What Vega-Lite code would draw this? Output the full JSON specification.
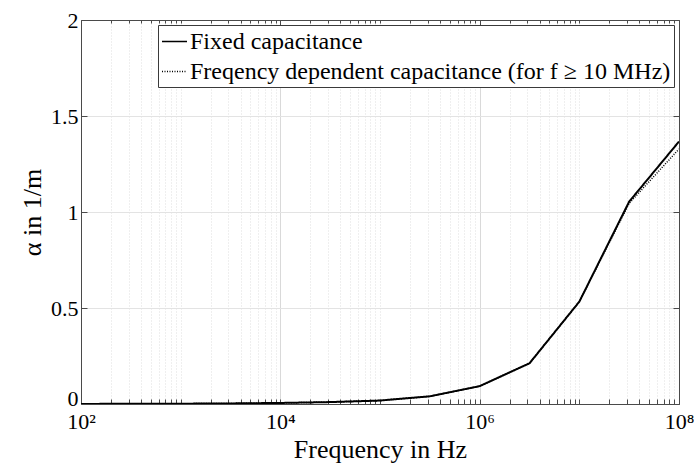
{
  "$schema": "https://vega.github.io/schema/vega-lite/v6.json",
  "width": 598,
  "height": 384,
  "autosize": "none",
  "padding": {"left": 81, "top": 20, "right": 15, "bottom": 64},
  "background": "white",
  "config": {
    "view": {"stroke": null},
    "font": "Liberation Serif",
    "axis": {
      "domainColor": "#4a4a4a",
      "domainWidth": 1,
      "tickColor": "#4a4a4a",
      "tickWidth": 1,
      "labelColor": "black",
      "titleColor": "black",
      "labelFont": "Liberation Serif",
      "titleFont": "Liberation Serif",
      "labelFontSize": 22,
      "titleFontSize": 26,
      "titleFontWeight": "normal"
    },
    "legend": {
      "orient": "top-right",
      "offset": 5,
      "fillColor": "white",
      "strokeColor": "#3a3a3a",
      "padding": 3,
      "labelFont": "Liberation Serif",
      "labelFontSize": 24,
      "labelColor": "black",
      "labelLimit": 0,
      "labelOffset": 2,
      "symbolType": "stroke",
      "symbolSize": 625,
      "symbolStrokeWidth": 1.6,
      "symbolStrokeColor": "black",
      "rowPadding": 4
    }
  },
  "data": {
    "values": [
      {"f": 100, "alpha": 0.0005, "series": "Fixed capacitance"},
      {"f": 316.23, "alpha": 0.0009, "series": "Fixed capacitance"},
      {"f": 1000, "alpha": 0.0016, "series": "Fixed capacitance"},
      {"f": 3162.3, "alpha": 0.003, "series": "Fixed capacitance"},
      {"f": 10000, "alpha": 0.0055, "series": "Fixed capacitance"},
      {"f": 31623, "alpha": 0.01, "series": "Fixed capacitance"},
      {"f": 100000, "alpha": 0.018, "series": "Fixed capacitance"},
      {"f": 316228, "alpha": 0.04, "series": "Fixed capacitance"},
      {"f": 1000000, "alpha": 0.093, "series": "Fixed capacitance"},
      {"f": 3162278, "alpha": 0.212, "series": "Fixed capacitance"},
      {"f": 10000000, "alpha": 0.533, "series": "Fixed capacitance"},
      {"f": 31622777, "alpha": 1.054, "series": "Fixed capacitance"},
      {"f": 100000000, "alpha": 1.367, "series": "Fixed capacitance"},
      {"f": 100, "alpha": 0.0005, "series": "Freqency dependent capacitance (for f ≥ 10 MHz)"},
      {"f": 316.23, "alpha": 0.0009, "series": "Freqency dependent capacitance (for f ≥ 10 MHz)"},
      {"f": 1000, "alpha": 0.0016, "series": "Freqency dependent capacitance (for f ≥ 10 MHz)"},
      {"f": 3162.3, "alpha": 0.003, "series": "Freqency dependent capacitance (for f ≥ 10 MHz)"},
      {"f": 10000, "alpha": 0.0055, "series": "Freqency dependent capacitance (for f ≥ 10 MHz)"},
      {"f": 31623, "alpha": 0.01, "series": "Freqency dependent capacitance (for f ≥ 10 MHz)"},
      {"f": 100000, "alpha": 0.018, "series": "Freqency dependent capacitance (for f ≥ 10 MHz)"},
      {"f": 316228, "alpha": 0.04, "series": "Freqency dependent capacitance (for f ≥ 10 MHz)"},
      {"f": 1000000, "alpha": 0.093, "series": "Freqency dependent capacitance (for f ≥ 10 MHz)"},
      {"f": 3162278, "alpha": 0.212, "series": "Freqency dependent capacitance (for f ≥ 10 MHz)"},
      {"f": 10000000, "alpha": 0.533, "series": "Freqency dependent capacitance (for f ≥ 10 MHz)"},
      {"f": 31622777, "alpha": 1.045, "series": "Freqency dependent capacitance (for f ≥ 10 MHz)"},
      {"f": 100000000, "alpha": 1.328, "series": "Freqency dependent capacitance (for f ≥ 10 MHz)"}
    ]
  },
  "layer": [
    {
      "transform": [{"filter": "datum.series == 'Fixed capacitance'"}],
      "mark": {"type": "line", "color": "black", "strokeWidth": 2, "clip": true},
      "encoding": {
        "x": {
          "field": "f",
          "type": "quantitative",
          "scale": {"type": "log", "domain": [100, 100000000], "nice": false},
          "axis": {
            "orient": "bottom",
            "title": "Frequency in Hz",
            "titleFont": "Liberation Serif",
            "titlePadding": 4,
            "values": [100, 200, 300, 400, 500, 600, 700, 800, 900, 1000, 2000, 3000, 4000, 5000, 6000, 7000, 8000, 9000, 10000, 20000, 30000, 40000, 50000, 60000, 70000, 80000, 90000, 100000, 200000, 300000, 400000, 500000, 600000, 700000, 800000, 900000, 1000000, 2000000, 3000000, 4000000, 5000000, 6000000, 7000000, 8000000, 9000000, 10000000, 20000000, 30000000, 40000000, 50000000, 60000000, 70000000, 80000000, 90000000, 100000000],
            "labelExpr": "datum.value == 100 ? '10²' : datum.value == 10000 ? '10⁴' : datum.value == 1000000 ? '10⁶' : datum.value == 100000000 ? '10⁸' : ''",
            "labelFont": "Liberation Serif",
            "labelPadding": 12,
            "labelFlush": false,
            "labelOverlap": false,
            "grid": true,
            "gridColor": {"condition": {"test": "datum.value == 100 || datum.value == 10000 || datum.value == 1000000 || datum.value == 100000000", "value": "#d9d9d9"}, "value": "#dedede"},
            "gridDash": {"condition": {"test": "datum.value == 100 || datum.value == 10000 || datum.value == 1000000 || datum.value == 100000000", "value": []}, "value": [1, 2]},
            "tickSize": -5
          }
        },
        "y": {
          "field": "alpha",
          "type": "quantitative",
          "scale": {"domain": [0, 2], "nice": false},
          "axis": {
            "orient": "left",
            "title": "α in 1/m",
            "titleFont": "Liberation Serif",
            "titlePadding": 5,
            "values": [0, 0.5, 1, 1.5, 2],
            "format": "~g",
            "labelFont": "Liberation Serif",
            "labelPadding": 9,
            "labelOffset": {"condition": {"test": "datum.value == 0", "value": -6}, "value": 0},
            "tickSize": -6,
            "grid": true,
            "gridColor": "#e3e3e3"
          }
        },
        "strokeDash": {
          "field": "series",
          "type": "nominal",
          "scale": {
            "domain": ["Fixed capacitance", "Freqency dependent capacitance (for f ≥ 10 MHz)"],
            "range": [[1, 0], [1, 1.5]]
          },
          "legend": {"title": null, "labelFont": "Liberation Serif"}
        }
      }
    },
    {
      "transform": [{"filter": "datum.series != 'Fixed capacitance'"}],
      "mark": {"type": "line", "color": "black", "strokeWidth": 1.5, "clip": true},
      "encoding": {
        "x": {
          "field": "f",
          "type": "quantitative",
          "axis": {
            "orient": "top",
            "title": null,
            "labels": false,
            "grid": false,
            "values": [100, 200, 300, 400, 500, 600, 700, 800, 900, 1000, 2000, 3000, 4000, 5000, 6000, 7000, 8000, 9000, 10000, 20000, 30000, 40000, 50000, 60000, 70000, 80000, 90000, 100000, 200000, 300000, 400000, 500000, 600000, 700000, 800000, 900000, 1000000, 2000000, 3000000, 4000000, 5000000, 6000000, 7000000, 8000000, 9000000, 10000000, 20000000, 30000000, 40000000, 50000000, 60000000, 70000000, 80000000, 90000000, 100000000],
            "tickSize": {"condition": {"test": "datum.value == 100 || datum.value == 10000 || datum.value == 1000000 || datum.value == 100000000", "value": -6}, "value": -3}
          }
        },
        "y": {
          "field": "alpha",
          "type": "quantitative",
          "axis": {
            "orient": "right",
            "title": null,
            "labels": false,
            "grid": false,
            "values": [0, 0.5, 1, 1.5, 2],
            "tickSize": -6
          }
        },
        "strokeDash": {"field": "series", "type": "nominal"}
      }
    }
  ],
  "resolve": {"axis": {"x": "independent", "y": "independent"}}
}
